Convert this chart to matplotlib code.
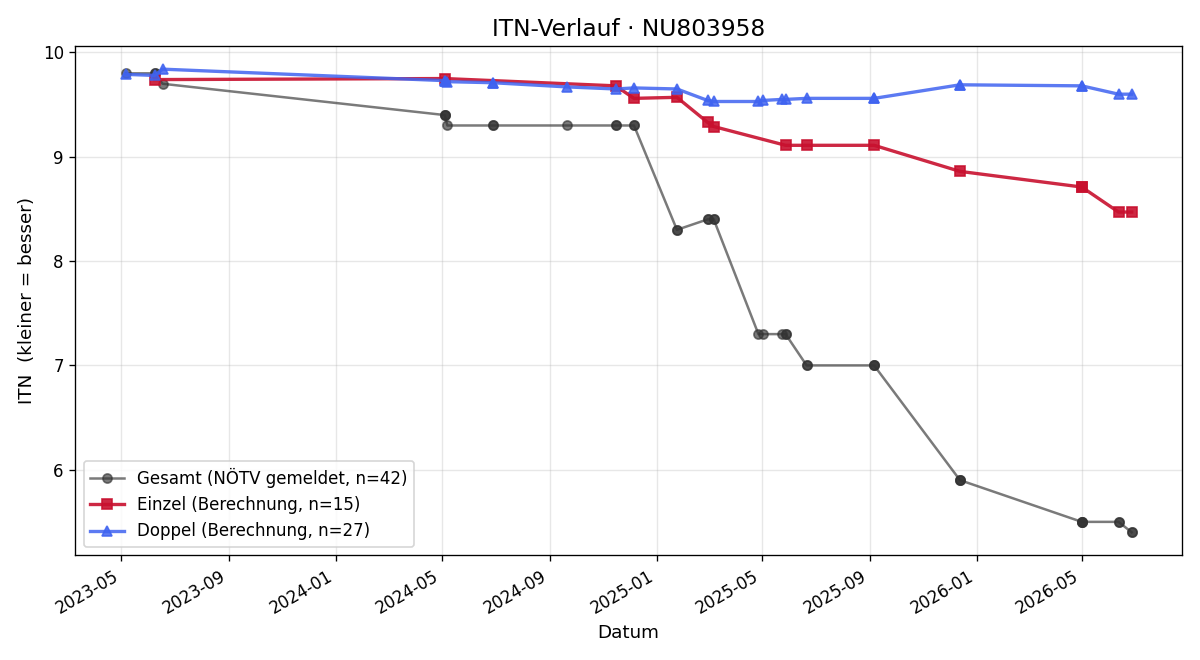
import matplotlib

matplotlib.use("Agg")
import matplotlib.dates as mdates
import matplotlib.pyplot as plt
import pandas as pd

PLAYER_ID = "NU803958"

# Gesamt-ITN laut NÖTV (ein Punkt pro Spiel)
GESAMT_DATES = [
    "2023-05-06", "2023-06-08", "2023-06-08", "2023-06-17",
    "2024-05-04", "2024-05-04", "2024-05-04", "2024-05-07",
    "2024-06-28", "2024-06-28", "2024-09-20",
    "2024-11-15", "2024-11-15", "2024-12-06", "2024-12-06",
    "2025-01-24", "2025-01-24", "2025-02-28", "2025-02-28",
    "2025-03-07", "2025-03-07", "2025-04-27", "2025-05-02",
    "2025-05-24", "2025-05-28", "2025-05-28", "2025-06-21", "2025-06-21",
    "2025-09-06", "2025-09-06", "2025-09-06",
    "2025-12-13", "2025-12-13", "2025-12-13",
    "2026-05-01", "2026-05-01", "2026-05-01", "2026-05-01",
    "2026-06-12", "2026-06-12", "2026-06-27", "2026-06-27",
]
GESAMT_ITN = [
    9.80, 9.80, 9.80, 9.70,
    9.40, 9.40, 9.40, 9.30,
    9.30, 9.30, 9.30,
    9.30, 9.30, 9.30, 9.30,
    8.30, 8.30, 8.40, 8.40,
    8.40, 8.40, 7.30, 7.30,
    7.30, 7.30, 7.30, 7.00, 7.00,
    7.00, 7.00, 7.00,
    5.90, 5.90, 5.90,
    5.50, 5.50, 5.50, 5.50,
    5.50, 5.50, 5.40, 5.40,
]

# Einzel-ITN (eigene Berechnung)
EINZEL_DATES = [
    "2023-06-08", "2024-05-04", "2024-11-15", "2024-12-06", "2025-01-24",
    "2025-02-28", "2025-03-07", "2025-05-28", "2025-06-21", "2025-09-06",
    "2025-12-13", "2026-05-01", "2026-05-01", "2026-06-12", "2026-06-27",
]
EINZEL_ITN = [
    9.74, 9.75, 9.68, 9.56, 9.57,
    9.33, 9.29, 9.11, 9.11, 9.11,
    8.86, 8.71, 8.71, 8.47, 8.47,
]

# Doppel-ITN (eigene Berechnung)
DOPPEL_DATES = [
    "2023-05-06", "2023-06-08", "2023-06-17",
    "2024-05-04", "2024-05-04", "2024-05-07", "2024-06-28", "2024-06-28",
    "2024-09-20", "2024-11-15", "2024-12-06", "2025-01-24",
    "2025-02-28", "2025-03-07", "2025-04-27", "2025-05-02",
    "2025-05-24", "2025-05-28", "2025-06-21", "2025-09-06", "2025-09-06",
    "2025-12-13", "2025-12-13", "2026-05-01", "2026-05-01",
    "2026-06-12", "2026-06-27",
]
DOPPEL_ITN = [
    9.79, 9.78, 9.84,
    9.73, 9.73, 9.72, 9.71, 9.71,
    9.67, 9.65, 9.66, 9.65,
    9.54, 9.53, 9.53, 9.54,
    9.55, 9.55, 9.56, 9.56, 9.56,
    9.69, 9.69, 9.68, 9.68,
    9.60, 9.60,
]


def main() -> None:
    fig, ax = plt.subplots(figsize=(10, 5.5), dpi=120)

    ax.plot(pd.to_datetime(GESAMT_DATES), GESAMT_ITN, marker="o", markersize=5.5,
            color="#333333", alpha=0.65, linewidth=1.5,
            label=f"Gesamt (NÖTV gemeldet, n={len(GESAMT_ITN)})")
    ax.plot(pd.to_datetime(EINZEL_DATES), EINZEL_ITN, marker="s", markersize=6.5,
            color="#c8102e", alpha=0.9, linewidth=2,
            label=f"Einzel (Berechnung, n={len(EINZEL_ITN)})")
    ax.plot(pd.to_datetime(DOPPEL_DATES), DOPPEL_ITN, marker="^", markersize=6.5,
            color="#3f63f0", alpha=0.85, linewidth=2,
            label=f"Doppel (Berechnung, n={len(DOPPEL_ITN)})")

    ax.set_title(f"ITN-Verlauf · {PLAYER_ID}", fontsize=14)
    ax.set_xlabel("Datum", fontsize=11)
    ax.set_ylabel("ITN  (kleiner = besser)", fontsize=11)
    ax.grid(True, alpha=0.3)
    ax.legend(loc="lower left")

    ax.xaxis.set_major_locator(mdates.MonthLocator(bymonth=[1, 5, 9]))
    ax.xaxis.set_major_formatter(mdates.DateFormatter("%Y-%m"))
    fig.autofmt_xdate()

    fig.tight_layout()
    fig.savefig("out.png")
    plt.close(fig)


if __name__ == "__main__":
    main()
